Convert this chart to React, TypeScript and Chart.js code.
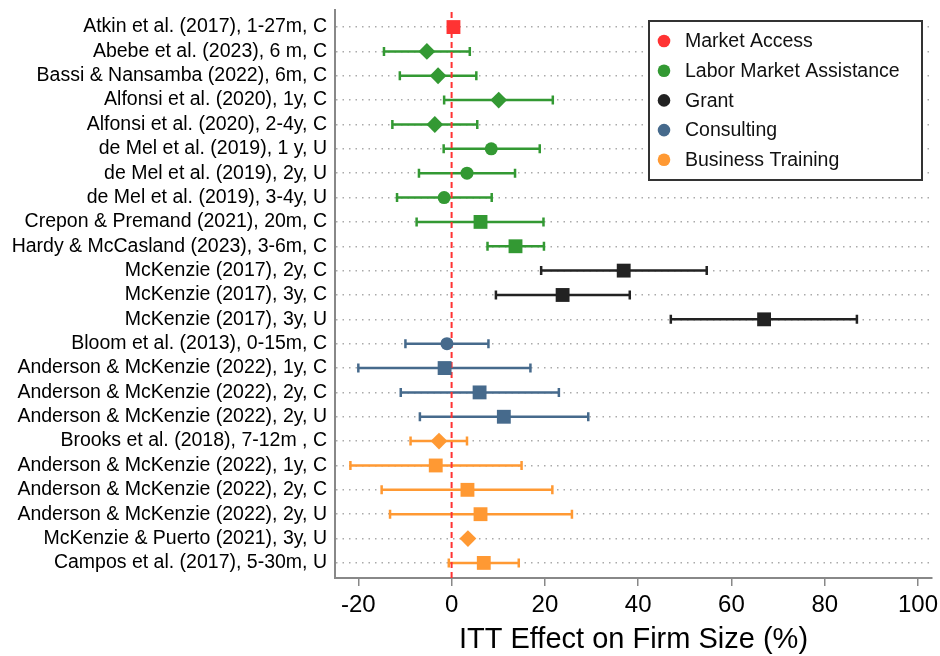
import React, { useEffect, useRef } from "react";
import { Chart, registerables } from "chart.js";

Chart.register(...registerables);

// Study rows, top to bottom
const studies = [
  "Atkin et al. (2017), 1-27m, C",
  "Abebe et al. (2023), 6 m, C",
  "Bassi & Nansamba (2022), 6m, C",
  "Alfonsi et al. (2020), 1y, C",
  "Alfonsi et al. (2020), 2-4y, C",
  "de Mel et al. (2019), 1 y, U",
  "de Mel et al. (2019), 2y, U",
  "de Mel et al. (2019), 3-4y, U",
  "Crepon & Premand (2021), 20m, C",
  "Hardy & McCasland (2023), 3-6m, C",
  "McKenzie (2017), 2y, C",
  "McKenzie (2017), 3y, C",
  "McKenzie (2017), 3y, U",
  "Bloom et al. (2013), 0-15m, C",
  "Anderson & McKenzie (2022), 1y, C",
  "Anderson & McKenzie (2022), 2y, C",
  "Anderson & McKenzie (2022), 2y, U",
  "Brooks et al. (2018), 7-12m , C",
  "Anderson & McKenzie (2022), 1y, C",
  "Anderson & McKenzie (2022), 2y, C",
  "Anderson & McKenzie (2022), 2y, U",
  "McKenzie & Puerto (2021), 3y, U",
  "Campos et al. (2017), 5-30m, U",
];

const interventions = [
  "Market Access",
  "Labor Market Assistance",
  "Grant",
  "Consulting",
  "Business Training",
];
const interventionColors = ["#ff3333", "#339933", "#222222", "#466a8c", "#ff9933"];

// Intervention index of each study row
const studyGroup = [0, 1, 1, 1, 1, 1, 1, 1, 1, 1, 2, 2, 2, 3, 3, 3, 3, 4, 4, 4, 4, 4, 4];

// Point estimates and 95% confidence bounds (ITT effect, %)
const effect = [0.4, -5.3, -2.9, 10.1, -3.6, 8.5, 3.3, -1.6, 6.2, 13.7, 36.9, 23.8, 67.0, -1.0, -1.5, 6.0, 11.2, -2.7, -3.4, 3.4, 6.2, 3.5, 6.9];
const ciLow = [null, -14.5, -11.1, -1.6, -12.7, -1.7, -7.0, -11.7, -7.5, 7.7, 19.2, 9.5, 47.0, -9.9, -20.0, -10.9, -6.8, -8.8, -21.7, -15.0, -13.2, null, -0.6];
const ciHigh = [null, 3.9, 5.3, 21.7, 5.5, 18.9, 13.6, 8.6, 19.7, 19.8, 54.7, 38.2, 86.9, 7.9, 16.9, 23.0, 29.3, 3.3, 15.0, 21.6, 25.8, null, 14.4];

// Marker shape per row
const markerShape = [
  "rect", "rectRot", "rectRot", "rectRot", "rectRot", "circle", "circle", "circle", "rect", "rect",
  "rect", "rect", "rect", "circle", "rect", "rect", "rect", "rectRot", "rect", "rect", "rect", "rectRot", "rect",
];

const xTicks = [-20, 0, 20, 40, 60, 80, 100];

const FONT = "'Liberation Sans', Arial, Helvetica, sans-serif";
const markerRadius: Record<string, number> = { rect: 9.8, rectRot: 8.4, circle: 6.5 };

// Horizontal confidence intervals with end caps, drawn beneath the markers
const errorBarPlugin = {
  id: "errorBars",
  beforeDatasetsDraw(chart: any) {
    const ctx = chart.ctx;
    const xs = chart.scales.x;
    chart.data.datasets.forEach((ds: any, di: number) => {
      const meta = chart.getDatasetMeta(di);
      ds.data.forEach((pt: any, i: number) => {
        if (pt.lo == null || pt.hi == null) return;
        const el = meta.data[i];
        const y = el.y;
        const x1 = xs.getPixelForValue(pt.lo);
        const x2 = xs.getPixelForValue(pt.hi);
        ctx.save();
        ctx.strokeStyle = ds.backgroundColor;
        ctx.lineWidth = 2.5;
        ctx.beginPath();
        ctx.moveTo(x1, y);
        ctx.lineTo(x2, y);
        ctx.moveTo(x1, y - 4.5);
        ctx.lineTo(x1, y + 4.5);
        ctx.moveTo(x2, y - 4.5);
        ctx.lineTo(x2, y + 4.5);
        ctx.stroke();
        ctx.restore();
      });
    });
  },
};

// Dashed reference line at zero effect
const zeroLinePlugin = {
  id: "zeroLine",
  beforeDatasetsDraw(chart: any) {
    const { ctx, chartArea } = chart;
    const x = chart.scales.x.getPixelForValue(0);
    ctx.save();
    ctx.strokeStyle = "#ff3333";
    ctx.lineWidth = 2;
    ctx.setLineDash([6, 4]);
    ctx.beginPath();
    ctx.moveTo(x, chartArea.top + 2);
    ctx.lineTo(x, chartArea.bottom);
    ctx.stroke();
    ctx.restore();
  },
};

// Boxed legend in the upper right of the plot
const boxLegendPlugin = {
  id: "boxLegend",
  afterDraw(chart: any) {
    const { ctx, chartArea } = chart;
    const w = 273;
    const h = 159;
    const left = chartArea.right - 10 - w;
    const top = chartArea.top + 11;
    ctx.save();
    ctx.fillStyle = "#ffffff";
    ctx.fillRect(left, top, w, h);
    ctx.strokeStyle = "#333333";
    ctx.lineWidth = 2;
    ctx.strokeRect(left, top, w, h);
    ctx.font = `19.5px ${FONT}`;
    ctx.textBaseline = "middle";
    ctx.textAlign = "left";
    chart.data.datasets.forEach((ds: any, i: number) => {
      const cy = top + 20 + i * 29.7;
      ctx.fillStyle = ds.backgroundColor;
      ctx.beginPath();
      ctx.arc(left + 15, cy, 6.3, 0, Math.PI * 2);
      ctx.fill();
      ctx.fillStyle = "#111111";
      ctx.fillText(ds.label, left + 36, cy + 1);
    });
    ctx.restore();
  },
};

export default function App() {
  const canvasRef = useRef<HTMLCanvasElement | null>(null);

  useEffect(() => {
    if (!canvasRef.current) return;
    Chart.defaults.font.family = FONT;

    const datasets = interventions.map((name, g) => {
      const rows = studies.map((_, i) => i).filter((i) => studyGroup[i] === g);
      return {
        label: name,
        data: rows.map((i) => ({ x: effect[i], y: i, lo: ciLow[i], hi: ciHigh[i] })),
        backgroundColor: interventionColors[g],
        borderColor: interventionColors[g],
        borderWidth: 0,
        pointStyle: rows.map((i) => markerShape[i]),
        pointRadius: rows.map((i) => markerRadius[markerShape[i]]),
        pointHoverRadius: rows.map((i) => markerRadius[markerShape[i]]),
        showLine: false,
      };
    });

    const chart = new Chart(canvasRef.current, {
      type: "scatter",
      data: { datasets },
      plugins: [errorBarPlugin, zeroLinePlugin, boxLegendPlugin],
      options: {
        animation: false,
        responsive: false,
        maintainAspectRatio: false,
        layout: { autoPadding: false, padding: { top: 10, right: 8, left: 0, bottom: 0 } },
        plugins: {
          legend: { display: false },
          tooltip: { enabled: false },
        },
        scales: {
          x: {
            type: "linear",
            min: -25,
            max: 103,
            afterBuildTicks: (scale: any) => {
              scale.ticks = xTicks.map((v) => ({ value: v }));
            },
            afterFit: (scale: any) => {
              scale.height = 78;
              scale.paddingLeft = 0;
              scale.paddingRight = 0;
            },
            grid: {
              drawOnChartArea: false,
              drawTicks: true,
              tickLength: 8,
              tickColor: "#888888",
              lineWidth: 1.5,
            },
            border: { display: true, color: "#888888", width: 2 },
            ticks: {
              color: "#000000",
              font: { size: 24 },
              padding: 5,
              maxRotation: 0,
              autoSkip: false,
            },
            title: {
              display: true,
              text: "ITT Effect on Firm Size (%)",
              color: "#000000",
              font: { size: 29 },
              padding: { top: 0, bottom: -1 },
            },
          },
          y: {
            type: "linear",
            reverse: true,
            min: -0.7,
            max: 22.62,
            afterBuildTicks: (scale: any) => {
              scale.ticks = studies.map((_, i) => ({ value: i }));
            },
            afterFit: (scale: any) => {
              scale.width = 335;
              scale.paddingTop = 0;
              scale.paddingBottom = 0;
            },
            grid: {
              drawTicks: false,
              color: "#aaaaaa",
              lineWidth: 1.5,
            },
            // dotted horizontal guides for each study row
            border: { display: true, color: "#888888", width: 2, dash: [1.5, 5] },
            ticks: {
              color: "#000000",
              font: { size: 19.5 },
              padding: 8,
              autoSkip: false,
              callback: (v: any) => studies[v as number] ?? "",
            },
          },
        },
      } as any,
    });

    return () => chart.destroy();
  }, []);

  return (
    <div style={{ position: "fixed", left: 0, top: 0, width: 940, height: 656, background: "#ffffff" }}>
      <canvas ref={canvasRef} width={940} height={656} style={{ width: 940, height: 656 }} />
    </div>
  );
}
